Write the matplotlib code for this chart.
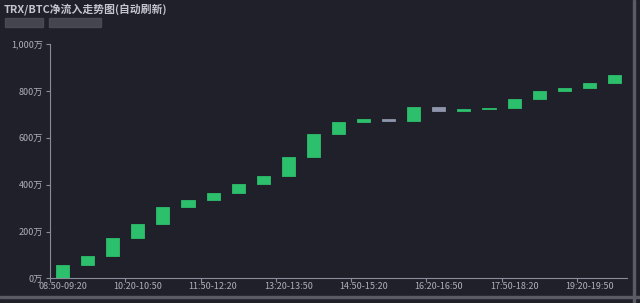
import numpy as np
import matplotlib
matplotlib.use("Agg")
import matplotlib.pyplot as plt
from matplotlib.patches import Rectangle
from matplotlib.ticker import FuncFormatter

plt.rcParams['font.family'] = ['Noto Sans CJK SC', 'DejaVu Sans']

# time slots (30 min each), net inflow per slot in 万
slots = ["08:50-09:20", "09:20-09:50", "09:50-10:20", "10:20-10:50", "10:50-11:20",
         "11:20-11:50", "11:50-12:20", "12:20-12:50", "12:50-13:20", "13:20-13:50",
         "13:50-14:20", "14:20-14:50", "14:50-15:20", "15:20-15:50", "15:50-16:20",
         "16:20-16:50", "16:50-17:20", "17:20-17:50", "17:50-18:20", "18:20-18:50",
         "18:50-19:20", "19:20-19:50", "19:50-20:20"]
net_flow = [56, 39, 78, 60, 70, 32, 31, 36, 34, 82, 100, 50, 12, -8, 62, -17,
            5, 4, 40, 35, 13, 22, 34]
y_ticks = [0, 200, 400, 600, 800, 1000]

bg = "#1f2029"
green = "#2cbf6c"
grey = "#8e95ac"
axis_col = "#8a8c99"
text_col = "#aeb0bb"

net = np.array(net_flow)
end = np.cumsum(net)
start = end - net
bottoms = np.minimum(start, end)
heights = np.abs(net)
colors = [green if v >= 0 else grey for v in net]

fig = plt.figure(figsize=(6.4, 3.03), dpi=100, facecolor=bg)
ax = fig.add_axes([50 / 640, 24.7 / 303, 577 / 640, 234 / 303])
ax.set_facecolor(bg)

x = np.arange(len(slots))
ax.bar(x, heights, bottom=bottoms, width=0.52, color=colors,
       edgecolor=colors, linewidth=0.6)

ax.set_xlim(-0.5, len(slots) - 0.5)
ax.set_ylim(0, 1000)

# y axis
ax.set_yticks(y_ticks)
ax.yaxis.set_major_formatter(FuncFormatter(lambda v, p: f"{int(v):,}万"))
ax.tick_params(axis='y', colors=axis_col, labelcolor=text_col, labelsize=6.5,
               length=3, width=0.8, pad=2)

# x axis: ticks on boundaries, labels on centers
ax.set_xticks(np.arange(-0.5, len(slots) - 0.5, 3))
ax.set_xticklabels([])
ax.set_xticks(x[::3], minor=True)
ax.set_xticklabels(slots[::3], minor=True)
ax.tick_params(axis='x', which='major', colors=axis_col, length=3, width=0.8)
ax.tick_params(axis='x', which='minor', length=0, labelcolor=text_col,
               labelsize=6.5, pad=3)

for side in ['top', 'right']:
    ax.spines[side].set_visible(False)
for side in ['left', 'bottom']:
    ax.spines[side].set_color(axis_col)
    ax.spines[side].set_linewidth(0.8)

# title and blurred subtitle
fig.text(4 / 640, 1 - 9 / 303, "TRX/BTC净流入走势图(自动刷新)", color="#c4c5ce",
         fontsize=7.8, fontweight='bold', va='center', ha='left')
fig.patches.append(Rectangle((5 / 640, 1 - 27 / 303), 38 / 640, 9 / 303,
                             transform=fig.transFigure, color="#4e4f58", alpha=0.8))
fig.patches.append(Rectangle((49 / 640, 1 - 27 / 303), 52 / 640, 9 / 303,
                             transform=fig.transFigure, color="#4e4f58", alpha=0.8))

# screenshot frame on the right and bottom
fig.patches.append(Rectangle((633 / 640, 0), 2 / 640, 1, transform=fig.transFigure,
                             color="#5a5b65"))
fig.patches.append(Rectangle((0, 5 / 303), 1, 2 / 303, transform=fig.transFigure,
                             color="#5a5b65"))

fig.savefig("out.png", dpi=100, facecolor=bg)
